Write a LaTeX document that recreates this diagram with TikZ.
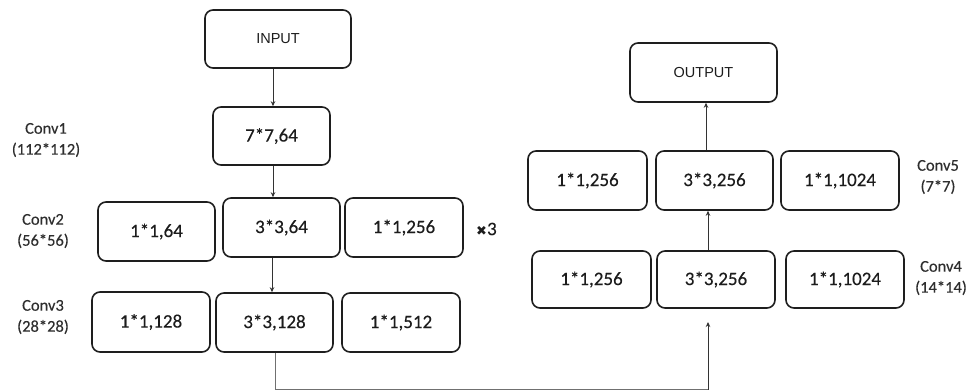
\documentclass[tikz,border=0pt]{standalone}
\usepackage{fontspec}
\setmainfont{Carlito}[FakeBold=0.3]
\newfontfamily\arialfont{Liberation Sans}
\newfontfamily\symfont{DejaVu Sans}
\usetikzlibrary{arrows.meta}
\definecolor{txt}{HTML}{1C1C1C}
\definecolor{lbl}{HTML}{2E2E2E}
\definecolor{edge}{HTML}{1E1E1E}
\definecolor{conn}{HTML}{333333}
\tikzset{
  blk/.style={draw=edge, line width=1.6pt, rounded corners=8pt, inner sep=0pt,
    minimum width=117pt, minimum height=58pt, text=txt,
    font=\fontsize{19}{22}\selectfont},
  io/.style={blk, font=\arialfont\fontsize{14.5}{17}\selectfont},
  lab/.style={align=center, text=lbl, inner sep=0pt,
    font=\fontsize{16.5}{21}\selectfont},
  arr/.style={draw=conn, line width=0.9pt, -{Stealth[length=5pt,width=4.5pt]}},
  ln/.style={draw=conn!70, line width=0.9pt}
}
\begin{document}
\begin{tikzpicture}[x=1pt,y=-1pt]
\useasboundingbox (0,0) rectangle (969,391);
% left column
\node[io, minimum width=146pt] (inp) at (278,39) {INPUT};
\node[blk] (c1) at (271.5,136) {7*7,64};
\node[blk, minimum height=59pt] (c2a) at (156.5,231.5) {1*1,64};
\node[blk, minimum height=59pt] (c2b) at (281.5,227.5) {3*3,64};
\node[blk, minimum height=59pt, minimum width=118pt] (c2c) at (404,227.5) {1*1,256};
\node[blk, minimum height=60pt, minimum width=118pt] (c3a) at (151,322) {1*1,128};
\node[blk, minimum height=59pt] (c3b) at (274.5,322.5) {3*3,128};
\node[blk, minimum height=59pt, minimum width=118pt] (c3c) at (401,322.5) {1*1,512};
% right column
\node[blk, minimum height=57pt, minimum width=119pt] (c4a) at (591.5,279.5) {1*1,256};
\node[blk, minimum height=57pt, minimum width=118pt] (c4b) at (716,279.5) {3*3,256};
\node[blk, minimum height=57pt, minimum width=118pt] (c4c) at (845,279.5) {1*1,1024};
\node[blk, minimum height=59pt, minimum width=119pt] (c5a) at (587.5,180.5) {1*1,256};
\node[blk, minimum height=59pt] (c5b) at (714.5,180.5) {3*3,256};
\node[blk, minimum height=59pt, minimum width=118pt] (c5c) at (840,180.5) {1*1,1024};
\node[io, minimum width=147pt, minimum height=59pt] (out) at (703.5,72.5) {OUTPUT};
% labels
\node[lab] (l1) at (46,140) {Conv1\\(112*112)};
\node[lab] (l2) at (43,231) {Conv2\\(56*56)};
\node[lab] (l3) at (43,317) {Conv3\\(28*28)};
\node[lab] (l5) at (938,177) {Conv5\\(7*7)};
\node[lab] (l4) at (941,278) {Conv4\\(14*14)};
\node[text=txt, inner sep=0pt, anchor=west] (x3) at (476,229)
  {{\symfont\fontsize{13}{14}\selectfont ✖}{\fontsize{19}{20}\selectfont 3}};
% connectors
\coordinate (a1) at (273,0);
\draw[arr] (inp.south -| a1) -- (c1.north -| a1);
\draw[arr] (c1.south -| a1) -- (c2b.north -| a1);
\coordinate (a2) at (272,0);
\draw[arr] (c2b.south -| a2) -- (c3b.north -| a2);
\coordinate (b1) at (275.5,389.5);
\coordinate (b2) at (708,389.5);
\coordinate (b3) at (708,322);
\draw[ln] (c3b.south -| b1) -- (b1) -- (b2);
\draw[arr] (b2) -- (b3);
\coordinate (a3) at (708,0);
\draw[arr] (c4b.north -| a3) -- (c5b.south -| a3);
\coordinate (a4) at (706,0);
\draw[arr] (c5b.north -| a4) -- (out.south -| a4);
\end{tikzpicture}
\end{document}
